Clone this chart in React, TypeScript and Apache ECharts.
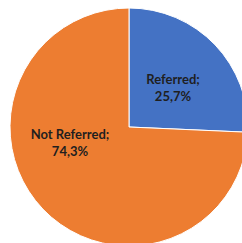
import React, { useEffect, useRef } from "react";
import * as echarts from "echarts";

const categories = ["Referred", "Not Referred"];
const values = [25.7, 74.3];
const colors = ["#4472C4", "#ED7D31"];

export default function App() {
  const ref = useRef<HTMLDivElement>(null);
  useEffect(() => {
    const chart = echarts.init(ref.current!, null, { renderer: "svg" });
    chart.setOption({
      animation: false,
      series: [
        {
          type: "pie",
          center: [129, 127],
          radius: 119,
          startAngle: 90,
          clockwise: true,
          silent: true,
          itemStyle: { borderColor: "#ffffff", borderWidth: 1 },
          label: {
            show: true,
            position: "inside",
            fontFamily: "Lato",
            fontWeight: "bold",
            fontSize: 13,
            lineHeight: 17,
            color: "#1f1f1f",
            align: "center",
            formatter: (p: any) => `${p.name};\n${p.value.toFixed(1).replace(".", ",")}%`,
          },
          labelLayout: (p: any) => {
            if (p.dataIndex === 1) return { x: 70, y: 142, align: "center", verticalAlign: "middle" };
            return { x: 173, y: 87, align: "center", verticalAlign: "middle" };
          },
          data: categories.map((c, i) => ({ name: c, value: values[i], itemStyle: { color: colors[i] } })),
        },
      ],
    });
    return () => chart.dispose();
  }, []);
  return (
    <div
      ref={ref}
      style={{ position: "absolute", left: 0, top: 0, width: 242, height: 243, background: "#fff" }}
    />
  );
}
